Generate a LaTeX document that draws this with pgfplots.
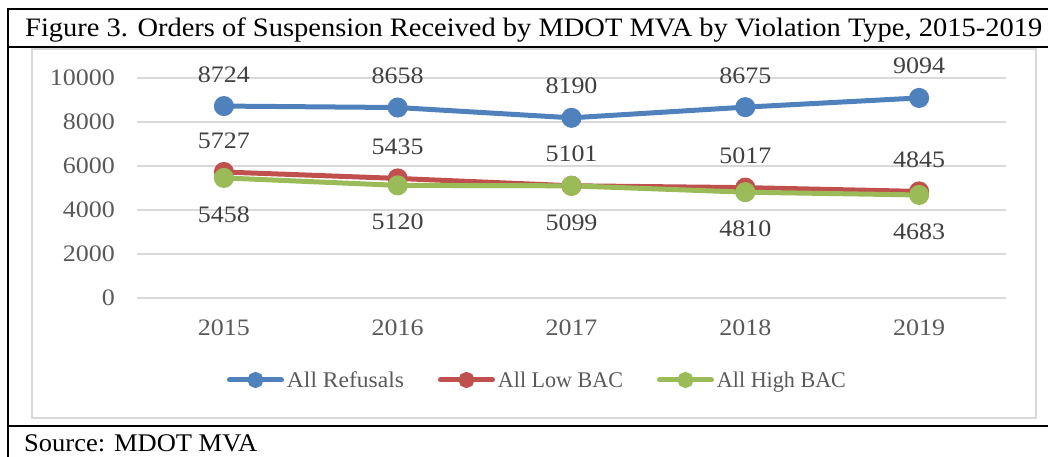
\documentclass[border=0pt]{standalone}
\usepackage{fontspec}
\setmainfont{Liberation Serif}
\newfontfamily\chartfont[FakeStretch=1.1]{Liberation Serif}
\usepackage{pgfplots}
\pgfplotsset{compat=1.18}
\definecolor{cblue}{HTML}{4F81BD}
\definecolor{cred}{HTML}{C0504D}
\definecolor{cgreen}{HTML}{9BBB59}
\definecolor{gridc}{HTML}{D9D9D9}
\definecolor{tickc}{HTML}{595959}
\definecolor{labc}{HTML}{404040}
\begin{document}
\begin{tikzpicture}
\useasboundingbox (0bp,0bp) rectangle (1048bp,457bp);
\draw[gridc, line width=1.5bp] (32bp,39bp) rectangle (1036bp,408bp);
\draw[black, line width=2.5bp] (1052bp,448bp) -- (8bp,448bp) -- (8bp,-5bp);
\draw[black, line width=2.5bp] (8bp,410bp) -- (1052bp,410bp);
\draw[black, line width=2.5bp] (8bp,31bp) -- (1052bp,31bp);
\node[anchor=base west, inner sep=0] at (25bp,420.3bp) {\fontsize{26.7}{30}\selectfont\resizebox{1017bp}{\height}{Figure 3. Orders of Suspension Received by MDOT MVA by Violation Type, 2015-2019}};
\node[anchor=base west, inner sep=0] at (24bp,6bp) {\fontsize{25.5}{30}\selectfont\resizebox{233bp}{\height}{Source: MDOT MVA}};
\begin{axis}[
  at={(137bp,159bp)}, anchor=south west,
  scale only axis, width=869bp, height=220bp,
  xmin=-0.5, xmax=4.5, ymin=0, ymax=10000,
  xtick={0,1,2,3,4}, xticklabels={2015,2016,2017,2018,2019},
  ytick={0,2000,4000,6000,8000,10000},
  scaled y ticks=false,
  /pgf/number format/1000 sep={},
  /pgf/number format/assume math mode=true,
  ymajorgrids, grid style={gridc, line width=1.5bp},
  axis line style={draw=none},
  major tick length=0,
  tick label style={font=\chartfont\fontsize{23.7}{28}\selectfont, text=tickc},
  yticklabel style={inner sep=0, anchor=east, xshift=-22bp},
  xticklabel style={inner sep=0, anchor=north, yshift=-22bp},
  clip=false,
  legend style={draw=none, fill=none, at={(0.4597,-0.3727)}, anchor=center,
    legend columns=-1, font=\fontsize{22.5}{26}\selectfont, text=tickc,
    nodes={inner sep=0pt},
    /tikz/every odd column/.append style={column sep=3bp},
    /tikz/every even column/.append style={column sep=34bp}},
  legend image code/.code={\draw[mark repeat=2, mark phase=2, #1, line cap=round, mark size=5.5bp] plot coordinates {(2.5bp,0bp) (28.5bp,0bp) (54.5bp,0bp)};},
]
\addplot[cblue, line width=5bp, mark=*, mark size=7.5bp, mark options={solid},
  nodes near coords, nodes near coords style={anchor=base, inner sep=0, yshift=24bp, font=\chartfont\fontsize{23.7}{28}\selectfont, text=labc}]
  coordinates {(0,8724) (1,8658) (2,8190) (3,8675) (4,9094)};
\addlegendentry{\resizebox{117bp}{\height}{All Refusals}}
\addplot[cred, line width=5bp, mark=*, mark size=7.5bp, mark options={solid},
  nodes near coords, nodes near coords style={anchor=base, inner sep=0, yshift=24bp, font=\chartfont\fontsize{23.7}{28}\selectfont, text=labc}]
  coordinates {(0,5727) (1,5435) (2,5101) (3,5017) (4,4845)};
\addlegendentry{\resizebox{125bp}{\height}{All Low BAC}}
\addplot[cgreen, line width=5bp, mark=*, mark size=7.5bp, mark options={solid},
  nodes near coords, nodes near coords style={anchor=north, inner sep=0, yshift=-26bp, font=\chartfont\fontsize{23.7}{28}\selectfont, text=labc}]
  coordinates {(0,5458) (1,5120) (2,5099) (3,4810) (4,4683)};
\addlegendentry{\resizebox{129bp}{\height}{All High BAC}}
\end{axis}
\end{tikzpicture}
\end{document}
